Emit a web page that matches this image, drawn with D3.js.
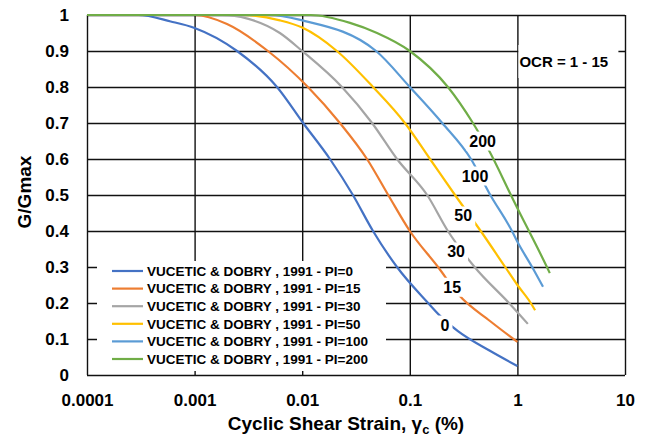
<!DOCTYPE html>
<html>
<head>
<meta charset="utf-8">
<script src="https://cdn.jsdelivr.net/npm/d3@7"></script>
<style>
  body { margin: 0; background: #fff; }
  text { font-family: "Liberation Sans", Arial, sans-serif; font-weight: bold; fill: #000; }
</style>
</head>
<body>
<svg id="chart" width="646" height="437"></svg>
<script>
// Vucetic & Dobry (1991) G/Gmax curves
const piNames = ["PI=0", "PI=15", "PI=30", "PI=50", "PI=100", "PI=200"];
const piLabels = ["0", "15", "30", "50", "100", "200"];
const colors = ["#4472C4", "#ED7D31", "#A5A5A5", "#FFC000", "#5B9BD5", "#70AD47"];

const strain0 = [0.0001, 0.0003, 0.0006, 0.001, 0.00248, 0.00583, 0.0102, 0.0181, 0.0296, 0.0455, 0.076, 0.148, 0.19, 0.28, 0.55, 1];
const g0      = [1, 1, 0.982, 0.964, 0.9, 0.8, 0.7, 0.6, 0.5, 0.4, 0.3, 0.2, 0.165, 0.122, 0.068, 0.025];

const strain15 = [0.0001, 0.001, 0.002, 0.0048, 0.0113, 0.0224, 0.04, 0.063, 0.1, 0.183, 0.286, 0.556, 1];
const g15      = [1, 1, 0.975, 0.9, 0.8, 0.7, 0.6, 0.5, 0.4, 0.3, 0.222, 0.15, 0.092];

const strain30 = [0.0001, 0.0018, 0.0031, 0.0062, 0.01, 0.0234, 0.0446, 0.076, 0.145, 0.226, 0.4, 0.835, 1.25];
const g30      = [1, 1, 0.99, 0.95, 0.9, 0.8, 0.7, 0.6, 0.5, 0.4, 0.3, 0.2, 0.142];

const strain50 = [0.0001, 0.0028, 0.0062, 0.01, 0.021, 0.0455, 0.09, 0.154, 0.263, 0.456, 0.77, 1, 1.33, 1.46];
const g50      = [1, 1, 0.985, 0.965, 0.9, 0.8, 0.7, 0.6, 0.5, 0.4, 0.3, 0.25, 0.2, 0.18];

const strain100 = [0.0001, 0.005, 0.01, 0.0486, 0.1, 0.2, 0.37, 0.56, 0.89, 1, 1.37, 1.73];
const g100      = [1, 1, 0.985, 0.9, 0.8, 0.7, 0.6, 0.5, 0.4, 0.37, 0.3, 0.245];

const strain200 = [0.0001, 0.012, 0.0278, 0.0496, 0.1, 0.226, 0.386, 0.537, 0.87, 1, 1.28, 1.88, 2.0];
const g200      = [1, 1, 0.978, 0.95, 0.9, 0.8, 0.7, 0.627, 0.5, 0.463, 0.4, 0.3, 0.283];

// where the PI numbers sit on the chart (strain, G)
const labelStrain = [0.212, 0.248, 0.269, 0.314, 0.404, 0.475];
const labelG      = [0.139, 0.244, 0.342, 0.442, 0.553, 0.65];

const xTicks = [0.0001, 0.001, 0.01, 0.1, 1, 10];
const xTickLabels = ["0.0001", "0.001", "0.01", "0.1", "1", "10"];
const yTicks = [0, 0.1, 0.2, 0.3, 0.4, 0.5, 0.6, 0.7, 0.8, 0.9, 1];
const yTickLabels = ["0", "0.1", "0.2", "0.3", "0.4", "0.5", "0.6", "0.7", "0.8", "0.9", "1"];

const strains = [strain0, strain15, strain30, strain50, strain100, strain200];
const gs = [g0, g15, g30, g50, g100, g200];

let svg = d3.select("#chart");
let margin = {left: 87, top: 15, right: 21, bottom: 62};
let width = +svg.attr("width") - margin.left - margin.right;
let height = +svg.attr("height") - margin.top - margin.bottom;

let x = d3.scaleLog().domain([0.0001, 10]).range([0, width]);
let y = d3.scaleLinear().domain([0, 1]).range([height, 0]);

let g = svg.append("g").attr("transform", `translate(${margin.left}, ${margin.top})`);

// grid + axes
let yAxis = g.append("g")
    .call(d3.axisLeft(y).tickValues(yTicks).tickSize(-width).tickPadding(18)
        .tickFormat((d, i) => yTickLabels[i]));
let xAxis = g.append("g")
    .attr("transform", `translate(0, ${height})`)
    .call(d3.axisBottom(x).tickValues(xTicks).tickSize(-height).tickPadding(19)
        .tickFormat((d, i) => xTickLabels[i]));
[xAxis, yAxis].forEach(a => {
    a.select(".domain").remove();
    a.selectAll(".tick line").attr("stroke", "#111").attr("stroke-width", 1.4);
    a.selectAll(".tick text").style("font-size", "17px").attr("fill", "#000");
});

// curves
let line = d3.line()
    .x(d => x(d[0]))
    .y(d => y(d[1]))
    .curve(d3.curveMonotoneX);

strains.forEach((s, i) => {
    let pts = s.map((v, j) => [v, gs[i][j]]);
    g.append("path")
        .datum(pts)
        .attr("fill", "none")
        .attr("stroke", colors[i])
        .attr("stroke-width", 2.2)
        .attr("d", line);
});

// PI labels on the curves
piLabels.forEach((lab, i) => {
    let t = g.append("text")
        .attr("x", x(labelStrain[i]))
        .attr("y", y(labelG[i]))
        .attr("dy", "0.35em")
        .attr("text-anchor", "middle")
        .style("font-size", "16px")
        .text(lab);
    let bb = t.node().getBBox();
    g.insert("rect", () => t.node())
        .attr("x", bb.x - 3).attr("y", bb.y - 1)
        .attr("width", bb.width + 6).attr("height", bb.height + 2)
        .attr("fill", "#fff");
});

// OCR note
let ocr = g.append("text")
    .attr("x", x(1) + 2)
    .attr("y", y(0.856))
    .style("font-size", "15px")
    .text("OCR = 1 - 15");
g.insert("rect", () => ocr.node())
    .attr("x", x(1) + 1).attr("y", 30)
    .attr("width", 100).attr("height", 33)
    .attr("fill", "#fff");

// legend
let legend = g.append("g").attr("transform", "translate(10, 246)");
legend.append("rect")
    .attr("width", 289).attr("height", 110)
    .attr("fill", "#fff");
piNames.forEach((name, i) => {
    let row = legend.append("g").attr("transform", `translate(0, ${10 + i * 17.6})`);
    row.append("line")
        .attr("x1", 15).attr("x2", 46)
        .attr("stroke", colors[i]).attr("stroke-width", 2.2);
    row.append("text")
        .attr("x", 50).attr("dy", "0.36em")
        .style("font-size", "13.5px")
        .text("VUCETIC & DOBRY , 1991 - " + name);
});

// axis titles
let xt = svg.append("text")
    .attr("x", 346).attr("y", 430)
    .attr("text-anchor", "middle")
    .style("font-size", "19px");
xt.append("tspan").text("Cyclic Shear Strain, γ");
xt.append("tspan").attr("dy", 4).style("font-size", "13px").text("c");
xt.append("tspan").attr("dy", -4).text(" (%)");

svg.append("text")
    .attr("transform", "translate(31, 192) rotate(-90)")
    .attr("text-anchor", "middle")
    .style("font-size", "19px")
    .text("G/Gmax");
</script>
</body>
</html>
